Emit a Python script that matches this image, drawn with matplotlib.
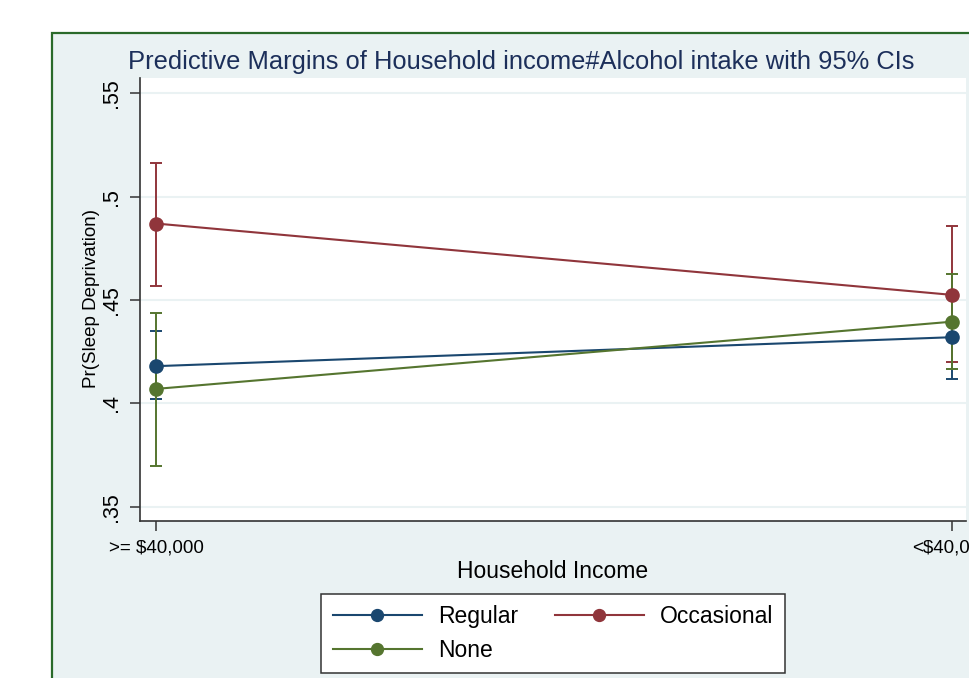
import matplotlib
matplotlib.use("Agg")
import matplotlib.pyplot as plt
from matplotlib.patches import Rectangle

plt.rcParams["font.family"] = ["Liberation Sans", "DejaVu Sans"]

# predictive margins
categories = [">= $40,000", "<$40,000"]
regular = [0.418, 0.432]
regular_lo = [0.402, 0.412]
regular_hi = [0.435, 0.452]
occasional = [0.487, 0.4525]
occasional_lo = [0.457, 0.420]
occasional_hi = [0.5165, 0.486]
none = [0.407, 0.4395]
none_lo = [0.3695, 0.4165]
none_hi = [0.4435, 0.4625]
yticks = [0.35, 0.4, 0.45, 0.5, 0.55]
ytick_labels = [".35", ".4", ".45", ".5", ".55"]

W, H = 969, 678
BG = "#EAF2F3"
fig = plt.figure(figsize=(W / 100, H / 100), dpi=100)
fig.patch.set_facecolor("white")

# graph region (light bluish gray with green frame, cut off at right/bottom)
fig.add_artist(Rectangle((52 / W, -0.1), 1.0, 1 - 33 / H + 0.1, transform=fig.transFigure,
                         facecolor=BG, edgecolor="#2a6a2a", lw=1.6, zorder=0))


def px(x0, y0, x1, y1):
    return [x0 / W, 1 - y1 / H, (x1 - x0) / W, (y1 - y0) / H]


ax = fig.add_axes(px(140, 78, 966, 521))
ax.set_facecolor("white")

series = [
    ("Regular", regular, regular_lo, regular_hi, "#1a476f"),
    ("Occasional", occasional, occasional_lo, occasional_hi, "#90353b"),
    ("None", none, none_lo, none_hi, "#55752f"),
]
x = list(range(len(categories)))
handles = {}
for name, vals, lo, hi, col in series:
    err = [[v - l for v, l in zip(vals, lo)], [h - v for v, h in zip(vals, hi)]]
    ax.errorbar(x, vals, yerr=err, fmt="none", ecolor=col, elinewidth=1.4,
                capsize=4.5, capthick=1.4, zorder=2)
for name, vals, lo, hi, col in series:
    ln, = ax.plot(x, vals, color=col, lw=1.5, marker="o", markersize=9.5, zorder=3)
    handles[name] = ln

ax.set_xlim(-0.0201, 1.018)
ax.set_ylim(0.3431, 0.5574)
ax.set_yticks(yticks)
ax.set_yticklabels(ytick_labels, rotation=90, va="center", fontsize=15.5)
ax.set_xticks(x)
ax.set_xticklabels(categories, fontsize=13.5)
ax.grid(axis="y", color=BG, lw=1.5)
ax.set_axisbelow(True)
for s in ["top", "right"]:
    ax.spines[s].set_visible(False)
for s in ["left", "bottom"]:
    ax.spines[s].set_color("#333333")
    ax.spines[s].set_linewidth(1.2)
ax.tick_params(axis="both", direction="out", length=7, width=1.1, color="#333333", pad=6)

fig.text(521 / W, 1 - 69 / H, "Predictive Margins of Household income#Alcohol intake with 95% CIs",
         ha="center", va="baseline", fontsize=18.4, color="#1c2f5a")
fig.text(91 / W, 1 - 298 / H, "Pr(Sleep Deprivation)", rotation=90, ha="center", va="center",
         fontsize=13.5)
fig.text(553 / W, 1 - 577.5 / H, "Household Income", ha="center", va="baseline", fontsize=16.5)

order = ["Regular", "None", "Occasional"]
leg = fig.legend([handles[k] for k in order], order, ncol=2, loc="upper center",
                 bbox_to_anchor=(553 / W, 1 - 594 / H), borderaxespad=0, fontsize=16.5,
                 handlelength=3.9, handletextpad=0.7, columnspacing=1.6, labelspacing=0.45,
                 fancybox=False, edgecolor="#333333", framealpha=1, borderpad=0.5,
                 markerscale=0.9)
leg.get_frame().set_linewidth(1.1)

fig.savefig("out.png", dpi=100)
